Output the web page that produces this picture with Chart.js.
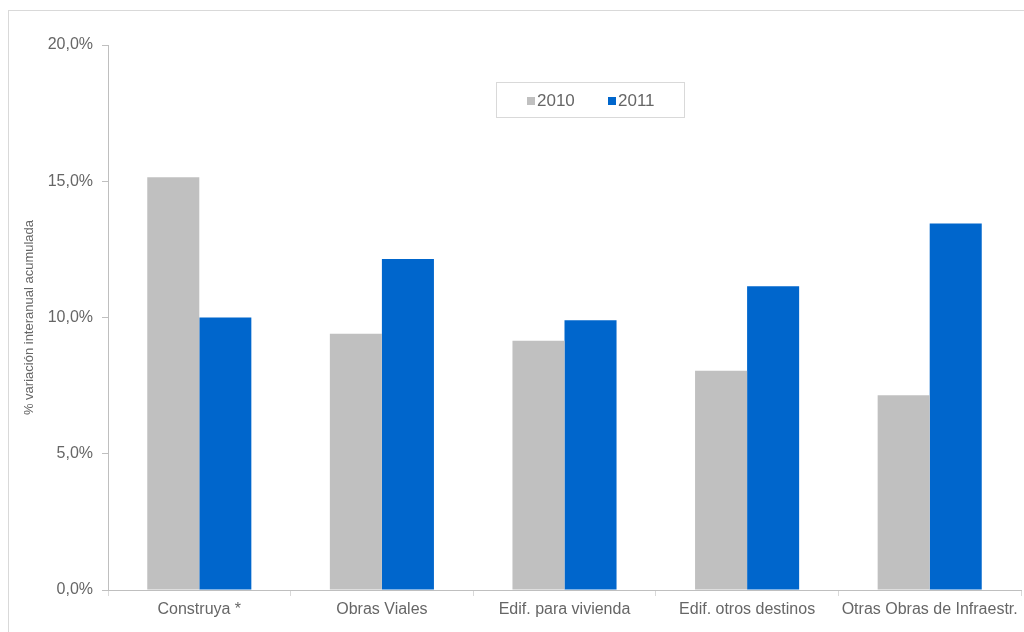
<!DOCTYPE html>
<html>
<head>
<meta charset="utf-8">
<script src="https://cdn.jsdelivr.net/npm/chart.js@4/dist/chart.umd.min.js"></script>
<style>
  html, body { margin: 0; padding: 0; background: #fff; overflow: hidden; }
  #frame { position: absolute; left: 8px; top: 10px; width: 1100px; height: 700px; border: 1px solid #d9d9d9; }
  #wrap { position: absolute; left: 0; top: 0; width: 1024px; height: 632px; }
</style>
</head>
<body>
<div id="frame"></div>
<div id="wrap"><canvas id="mainChart" width="1024" height="632"></canvas></div>
<script>
var categories = ['Construya *', 'Obras Viales', 'Edif. para vivienda', 'Edif. otros destinos', 'Otras Obras de Infraestr.'];
var values2010 = [15.15, 9.4, 9.15, 8.05, 7.15];
var values2011 = [10.0, 12.15, 9.9, 11.15, 13.45];
var yTicks = [0, 5, 10, 15, 20];

var ctx = document.getElementById('mainChart'),
  myBarChart;

// legend box drawn inside the plot, like the original
var boxLegend = {
  id: 'boxLegend',
  afterDraw: function (chart) {
    var c = chart.ctx;
    c.save();
    c.strokeStyle = '#d9d9d9';
    c.lineWidth = 1;
    c.strokeRect(496.5, 82.5, 188, 35);
    c.font = '17px "Liberation Sans", Arial, sans-serif';
    c.textBaseline = 'middle';
    var xs = [527, 608];
    chart.data.datasets.forEach(function (ds, i) {
      c.fillStyle = ds.backgroundColor;
      c.fillRect(xs[i], 97, 8, 8);
      c.fillStyle = '#666666';
      c.fillText(ds.label, xs[i] + 10, 101);
    });
    c.restore();
  }
};

function draw () {
  myBarChart = new Chart(ctx, {
    type: 'bar',
    data: {
      labels: categories,
      datasets: [{
        label: '2010',
        data: values2010,
        backgroundColor: '#c0c0c0'
      }, {
        label: '2011',
        data: values2011,
        backgroundColor: '#0066cc'
      }]
    },
    plugins: [boxLegend],
    options: {
      responsive: false,
      animation: false,
      layout: { padding: { top: 45, right: 3, left: 0, bottom: 0 } },
      datasets: { bar: { categoryPercentage: 0.57, barPercentage: 1.0 } },
      plugins: {
        legend: { display: false },
        tooltip: { enabled: false }
      },
      scales: {
        x: {
          grid: { display: true, drawOnChartArea: false, drawTicks: true, tickLength: 6, color: '#d9d9d9', offset: true },
          border: { color: '#bfbfbf' },
          ticks: { color: '#666666', font: { family: '"Liberation Sans", Arial, sans-serif', size: 16 }, padding: 4, maxRotation: 0, autoSkip: false },
          afterFit: function (s) { s.height = 42; }
        },
        y: {
          min: 0,
          max: 20,
          afterBuildTicks: function (s) { s.ticks = yTicks.map(function (v) { return { value: v }; }); },
          grid: { display: true, drawOnChartArea: false, drawTicks: true, tickLength: 6, color: '#bfbfbf' },
          border: { color: '#bfbfbf' },
          ticks: {
            color: '#666666',
            font: { family: '"Liberation Sans", Arial, sans-serif', size: 16 },
            padding: 9,
            callback: function (v) { return v.toFixed(1).replace('.', ',') + '%'; }
          },
          title: {
            display: true,
            text: '% variación interanual acumulada',
            color: '#666666',
            font: { family: '"Liberation Sans", Arial, sans-serif', size: 13 },
            padding: { top: 22, bottom: 0 }
          },
          afterFit: function (s) { s.width = 108; }
        }
      }
    }
  });
}

draw();
</script>
</body>
</html>
